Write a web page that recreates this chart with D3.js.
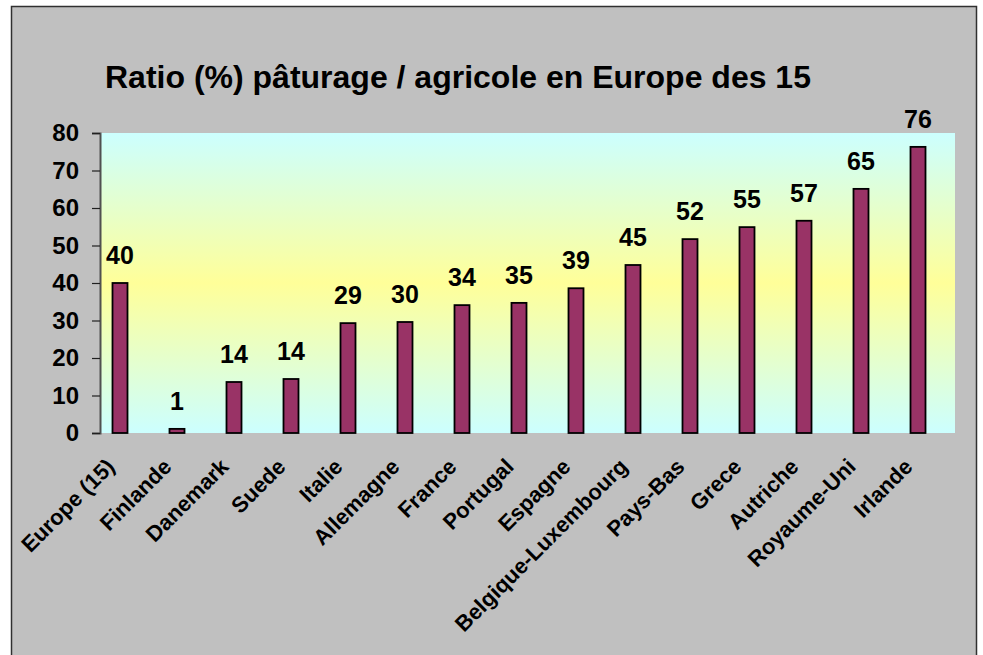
<!DOCTYPE html>
<html>
<head>
<meta charset="utf-8">
<script src="https://cdn.jsdelivr.net/npm/d3@7"></script>
<style>
  html, body { margin: 0; padding: 0; background: #ffffff; }
  svg { display: block; }
  text { font-family: Arial, "Liberation Sans", sans-serif; font-weight: bold; fill: #000; }
</style>
</head>
<body>
<svg id="chart" width="983" height="655"></svg>
<script>
const categories = ["Europe (15)", "Finlande", "Danemark", "Suede", "Italie", "Allemagne", "France", "Portugal", "Espagne", "Belgique-Luxembourg", "Pays-Bas", "Grece", "Autriche", "Royaume-Uni", "Irlande"];
const values = [40, 1.1, 13.6, 14.4, 29.3, 29.6, 34.1, 34.7, 38.6, 44.8, 51.7, 54.9, 56.6, 65.1, 76.3];
const yTicks = [0, 10, 20, 30, 40, 50, 60, 70, 80];
const title = "Ratio (%) pâturage / agricole en Europe des 15";

const svg = d3.select("#chart");

// outer frame
svg.append("rect")
  .attr("x", 11.5).attr("y", 6.5).attr("width", 965).attr("height", 660)
  .attr("fill", "#c0c0c0").attr("stroke", "#303030").attr("stroke-width", 1.5);

// plot area
const plot = { left: 100, right: 955, top: 133, bottom: 433 };

const defs = svg.append("defs");
const grad = defs.append("linearGradient").attr("id", "bg")
  .attr("x1", 0).attr("y1", 0).attr("x2", 0).attr("y2", 1);
grad.append("stop").attr("offset", "0%").attr("stop-color", "#ccffff");
grad.append("stop").attr("offset", "50%").attr("stop-color", "#ffff99");
grad.append("stop").attr("offset", "100%").attr("stop-color", "#ccffff");

svg.append("rect")
  .attr("x", plot.left).attr("y", plot.top)
  .attr("width", plot.right - plot.left).attr("height", plot.bottom - plot.top)
  .attr("fill", "url(#bg)");

const y = d3.scaleLinear().domain([0, 80]).range([plot.bottom, plot.top]);
const x = d3.scaleBand().domain(categories).range([91.5, 946.5]).padding(0);

// y axis
const yAxis = d3.axisLeft(y).tickValues(yTicks).tickSize(8).tickPadding(13);
const yg = svg.append("g").attr("transform", `translate(${plot.left},0)`).call(yAxis);
yg.select(".domain").attr("stroke", "#505050").attr("stroke-width", 2);
yg.selectAll(".tick line").attr("stroke", "#202020").attr("stroke-width", 1.2);
yg.selectAll(".tick text")
  .style("font-family", "Arial, 'Liberation Sans', sans-serif")
  .style("font-weight", "bold").style("font-size", "24px").attr("fill", "#000");

// bars
const barW = 15;
svg.append("g").selectAll("rect")
  .data(categories)
  .join("rect")
  .attr("x", (d) => x(d) + x.bandwidth() / 2 - barW / 2)
  .attr("y", (d, i) => y(values[i]))
  .attr("width", barW)
  .attr("height", (d, i) => y(0) - y(values[i]))
  .attr("fill", "#993366")
  .attr("stroke", "#000")
  .attr("stroke-width", 1.8);

// value labels
const fmt = d3.format(".0f");
svg.append("g").selectAll("text")
  .data(categories)
  .join("text")
  .attr("x", (d) => x(d) + x.bandwidth() / 2)
  .attr("y", (d, i) => y(values[i]) - 19)
  .attr("text-anchor", "middle")
  .style("font-size", "25px")
  .text((d, i) => fmt(values[i]));

// x labels
svg.append("g").selectAll("text")
  .data(categories)
  .join("text")
  .attr("transform", (d) => `translate(${x(d) + x.bandwidth() / 2 - 4},${plot.bottom + 35}) rotate(-45)`)
  .attr("text-anchor", "end")
  .style("font-size", "22px")
  .text((d) => d);

// title
svg.append("text")
  .attr("x", 105).attr("y", 88)
  .style("font-size", "32px")
  .text(title);
</script>
</body>
</html>
